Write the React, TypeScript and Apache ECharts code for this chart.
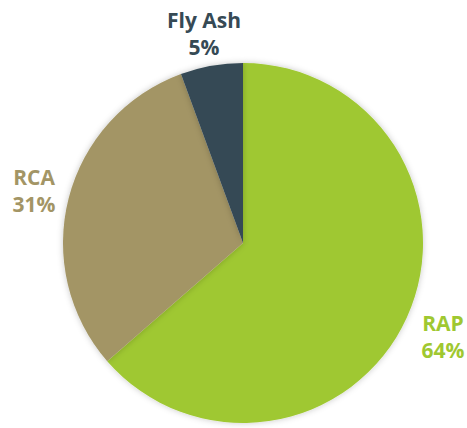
import React, { useEffect, useRef } from "react";
import * as echarts from "echarts";

const categories = ["RAP", "RCA", "Fly Ash"];
const values = [63.6, 30.8, 5.6];
const labelPercents = ["64%", "31%", "5%"];
const colors = ["#9FC831", "#A39565", "#364A55"];

const labelPos = [
  { x: 443, y: 336 },
  { x: 34, y: 190 },
  { x: 204, y: 33 },
];

export default function App() {
  const ref = useRef<HTMLDivElement>(null);
  useEffect(() => {
    if (!ref.current) return;
    const chart = echarts.init(ref.current, null, { renderer: "svg" });
    chart.setOption({
      animation: false,
      backgroundColor: "#ffffff",
      series: [
        {
          type: "pie",
          center: [243, 243],
          radius: 180,
          startAngle: 90,
          clockwise: true,
          avoidLabelOverlap: false,
          data: categories.map((name, i) => ({
            name,
            value: values[i],
            itemStyle: { color: colors[i] },
            label: { color: colors[i] },
          })),
          itemStyle: {
            shadowBlur: 6,
            shadowColor: "rgba(0,0,0,0.22)",
            borderWidth: 0,
          },
          emphasis: { disabled: true },
          labelLine: { show: false },
          label: {
            show: true,
            position: "outside",
            formatter: (p: any) => `${p.name}\n${labelPercents[p.dataIndex]}`,
            fontFamily: "'Open Sans', sans-serif",
            fontWeight: "bold",
            fontSize: 21,
            lineHeight: 27,
            align: "center",
          },
          labelLayout: (params: any) => ({
            x: labelPos[params.dataIndex].x,
            y: labelPos[params.dataIndex].y,
            align: "center",
            verticalAlign: "middle",
            hideOverlap: false,
          }),
        },
      ],
    });
    return () => chart.dispose();
  }, []);
  return (
    <div
      ref={ref}
      style={{ position: "fixed", left: 0, top: 0, width: 467, height: 428 }}
    />
  );
}
